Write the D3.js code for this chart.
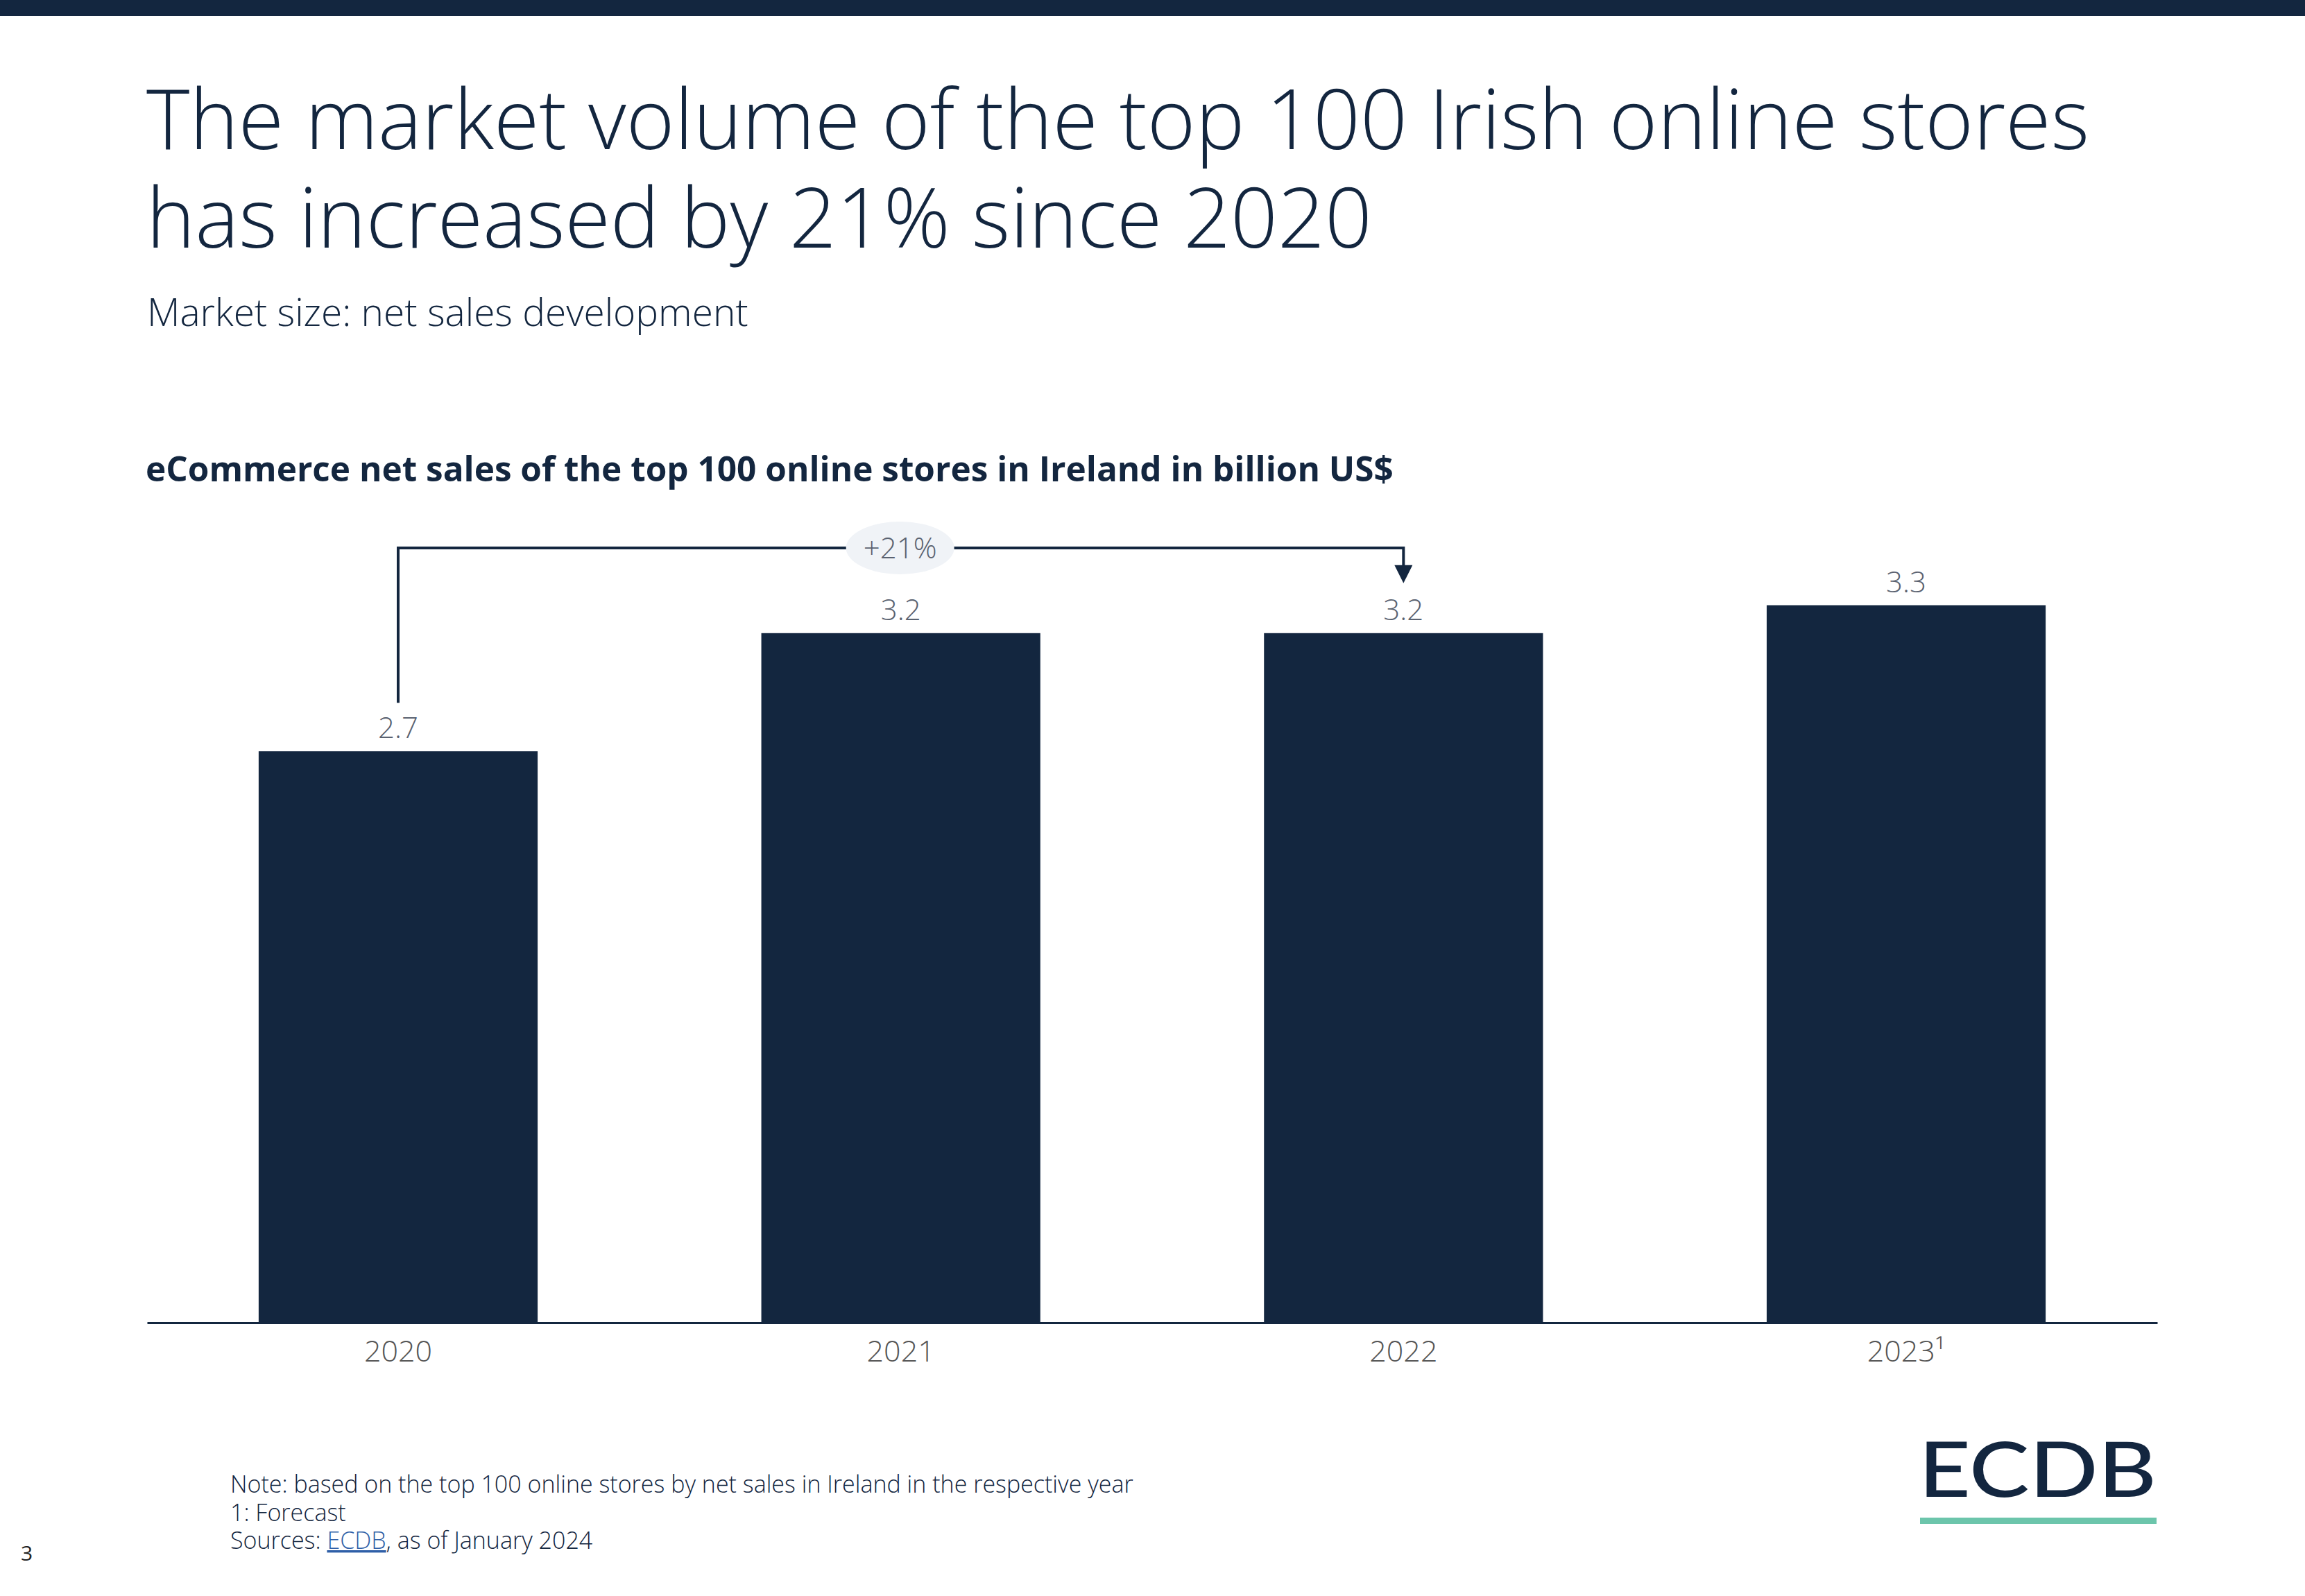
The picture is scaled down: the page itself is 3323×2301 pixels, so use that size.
<!DOCTYPE html>
<html><head><meta charset="utf-8">
<script src="https://cdn.jsdelivr.net/npm/d3@7"></script>
<style>
html,body{margin:0;padding:0;background:#fff;}
svg{display:block;}
</style></head>
<body>
<script>
const categories = ["2020","2021","2022","2023"];
const tickLabels = ["2020","2021","2022","2023¹"];
const values = [2.66, 3.21, 3.21, 3.34];
const valueLabels = ["2.7","3.2","3.2","3.3"];
const growthFrom = "2020", growthTo = "2022", growthLabel = "+21%";
const titleLines = ["The market volume of the top 100 Irish online stores","has increased by 21% since 2020"];
const subtitle = "Market size: net sales development";
const chartTitle = "eCommerce net sales of the top 100 online stores in Ireland in billion US$";
const notes = ["Note: based on the top 100 online stores by net sales in Ireland in the respective year","1: Forecast"];

const W = 3323, H = 2301;
const navy = "#13263f";
const svg = d3.select("body").append("svg").attr("width", W).attr("height", H);
const font = "'Open Sans', sans-serif";

svg.append("rect").attr("x",0).attr("y",0).attr("width",W).attr("height",23).attr("fill",navy);

const tt = svg.append("text").attr("font-family",font).attr("font-weight",300)
  .attr("font-size",119).attr("fill",navy);
titleLines.forEach((t,i)=>{
  tt.append("tspan").attr("x",211).attr("y",215+i*142).text(t);
});
svg.append("text").attr("x",212).attr("y",470).text(subtitle)
  .attr("font-family",font).attr("font-weight",300).attr("font-size",55).attr("fill",navy);
svg.append("text").attr("x",210).attr("y",694).text(chartTitle)
  .attr("font-family",font).attr("font-weight",700).attr("font-size",49.5).attr("fill",navy);

const x = d3.scaleBand().domain(categories).range([212,3110]).paddingInner(0.445).paddingOuter(0.222);
const y = d3.scaleLinear().domain([0,3.5]).range([1907,823]);

svg.selectAll("rect.bar").data(values).enter().append("rect").attr("class","bar")
  .attr("x",(d,i)=>x(categories[i])).attr("width",x.bandwidth())
  .attr("y",d=>y(d)).attr("height",d=>y(0)-y(d)).attr("fill",navy);

svg.selectAll("text.val").data(values).enter().append("text").attr("class","val")
  .attr("x",(d,i)=>x(categories[i])+x.bandwidth()/2).attr("y",d=>y(d)-19)
  .attr("text-anchor","middle").attr("font-family",font).attr("font-weight",300)
  .attr("font-size",42).attr("fill","#5a6270").text((d,i)=>valueLabels[i]);

const axis = d3.axisBottom(x).tickSize(0).tickSizeOuter(0).tickFormat((d,i)=>tickLabels[i]);
const ag = svg.append("g").attr("transform",`translate(0,${y(0)})`).call(axis);
ag.select(".domain").attr("stroke",navy).attr("stroke-width",3);
ag.selectAll(".tick text").attr("font-family",font).attr("font-weight",300).attr("font-size",43)
  .attr("fill","#555").attr("dy",null).attr("y",56);

// growth bracket
const cx0 = x(growthFrom)+x.bandwidth()/2;
const cx1 = x(growthTo)+x.bandwidth()/2;
const by = 790;
const i0 = categories.indexOf(growthFrom), i1 = categories.indexOf(growthTo);
svg.append("path").attr("d",`M${cx0},${y(values[i0])-70} V${by} H${cx1} V${y(values[i1])-90}`)
  .attr("fill","none").attr("stroke",navy).attr("stroke-width",4);
svg.append("path").attr("d",`M${cx1-13},${y(values[i1])-98} L${cx1+13},${y(values[i1])-98} L${cx1},${y(values[i1])-72} Z`)
  .attr("fill",navy);
const midX = (x(categories[1])+x.bandwidth()/2);
svg.append("ellipse").attr("cx",midX-1).attr("cy",by).attr("rx",78).attr("ry",38).attr("fill","#f0f3f7");
svg.append("text").attr("x",midX-1).attr("y",by+15).attr("text-anchor","middle")
  .attr("font-family",font).attr("font-weight",300).attr("font-size",42).attr("fill","#5a6270").text(growthLabel);

// footer
notes.forEach((t,i)=>{
  svg.append("text").attr("x",332).attr("y",2152+i*40.5).text(t)
    .attr("font-family",font).attr("font-weight",300).attr("font-size",34).attr("fill",navy);
});
const src = svg.append("text").attr("x",332).attr("y",2233)
  .attr("font-family",font).attr("font-weight",300).attr("font-size",34).attr("fill",navy);
src.append("tspan").text("Sources: ");
src.append("tspan").text("ECDB").attr("fill","#2f5fa7").attr("text-decoration","underline");
src.append("tspan").text(", as of January 2024");
svg.append("text").attr("x",30).attr("y",2250).text("3")
  .attr("font-family",font).attr("font-size",30).attr("fill","#222");

// logo
svg.append("text").attr("x",2766).attr("y",2158).text("ECDB")
  .attr("font-family","Lato, sans-serif").attr("font-weight",500).attr("font-size",110)
  .attr("textLength",343).attr("lengthAdjust","spacingAndGlyphs").attr("fill",navy);
svg.append("rect").attr("x",2768).attr("y",2188).attr("width",341).attr("height",9).attr("fill","#6cc5ab");
</script>
</body></html>
